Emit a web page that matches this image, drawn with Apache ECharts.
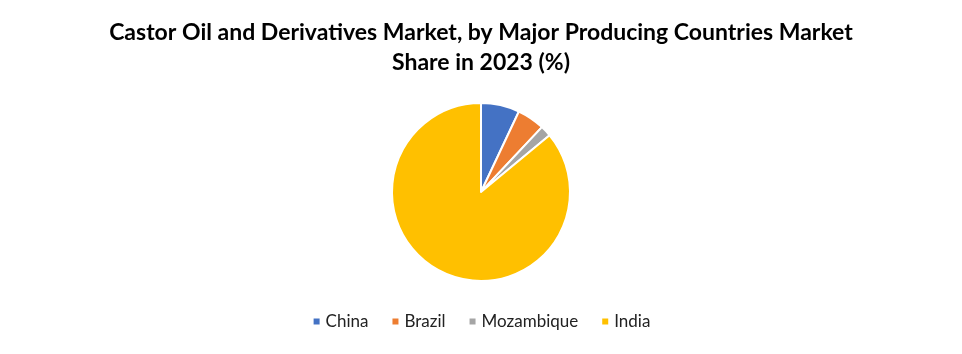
<!DOCTYPE html>
<html>
<head>
<meta charset="utf-8">
<script src="https://cdn.jsdelivr.net/npm/echarts@6/dist/echarts.min.js"></script>
<style>
  html, body { margin: 0; padding: 0; background: #fff; }
  #chart { width: 962px; height: 354px; }
</style>
</head>
<body>
<div id="chart"></div>
<script>
// market share by country, %
const countries = ['China', 'Brazil', 'Mozambique', 'India'];
const shares = [7, 5, 2, 86];
const colors = ['#4472C4', '#ED7D31', '#A5A5A5', '#FFC000'];

const chart = echarts.init(document.getElementById('chart'));

const option = {
  animation: false,
  title: {
    text: 'Castor Oil and Derivatives Market, by Major Producing Countries Market\nShare in 2023 (%)',
    left: 'center',
    top: 13,
    textStyle: {
      fontFamily: 'Lato',
      fontWeight: 'bold',
      fontSize: 23,
      lineHeight: 30,
      color: '#000'
    }
  },
  legend: {
    bottom: 19,
    left: 'center',
    icon: 'rect',
    itemWidth: 8,
    itemHeight: 8,
    itemGap: 22,
    textStyle: { fontFamily: 'Lato', fontSize: 17, color: '#222' },
    data: countries
  },
  series: [
    {
      type: 'pie',
      center: [481, 192],
      radius: 89,
      startAngle: 90,
      clockwise: true,
      label: { show: false },
      labelLine: { show: false },
      itemStyle: { borderColor: '#fff', borderWidth: 2 },
      emphasis: { disabled: true },
      data: countries.map((c, i) => ({
        name: c,
        value: shares[i],
        itemStyle: { color: colors[i] }
      }))
    }
  ]
};

chart.setOption(option);
</script>
</body>
</html>
